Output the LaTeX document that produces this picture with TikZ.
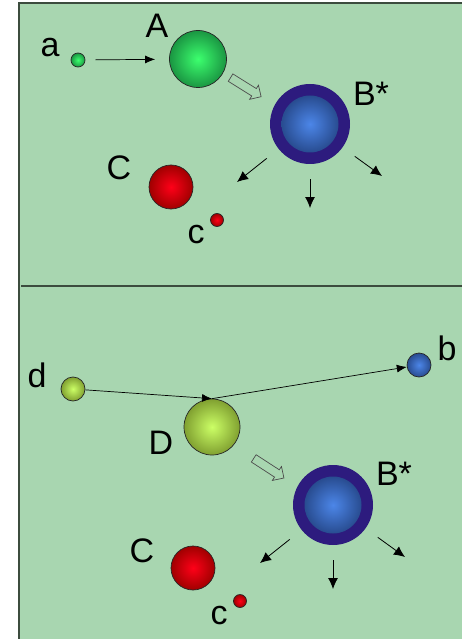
\documentclass[tikz,border=0pt]{standalone}
\usepackage{fontspec}
\setmainfont{Liberation Sans}
\usetikzlibrary{arrows.meta,shapes.arrows}
\definecolor{bgcol}{RGB}{168,214,176}
\definecolor{framecol}{RGB}{60,76,62}
\definecolor{greenin}{RGB}{60,255,110}
\definecolor{greenout}{RGB}{26,150,66}
\definecolor{redin}{RGB}{255,0,24}
\definecolor{redout}{RGB}{160,0,0}
\definecolor{limein}{RGB}{204,255,102}
\definecolor{limeout}{RGB}{128,160,48}
\definecolor{bluein}{RGB}{76,134,232}
\definecolor{blueout}{RGB}{40,76,144}
\definecolor{ringcol}{RGB}{45,27,126}
\begin{document}
\begin{tikzpicture}[x=1pt, y=-1pt,
		ball/.style={circle, draw=black!85, line width=0.7pt, inner sep=0pt},
		lbl/.style={inner sep=0pt, font=\fontsize{34}{34}\selectfont},
		flow/.style={-{Latex[length=10pt,width=8pt]}, line width=0.7pt},
		emit/.style={-{Latex[length=11pt,width=10pt]}, line width=0.8pt, shorten <=15pt},
		hollow/.style={single arrow, draw=black!70, fill=bgcol, line width=0.7pt,
			inner xsep=0pt, inner ysep=4pt, minimum height=36pt, single arrow head extend=4pt}]
			\useasboundingbox (0,0) rectangle (462,639);
			
			% Panels
			\fill[bgcol] (19,3) rectangle (462,639);
			\draw[framecol, line width=2pt] (19,639) -- (19,3) -- (462,3);
			\draw[framecol, line width=2pt] (21,286) -- (462,286);
			
			% Upper panel: balls
			\node[ball, minimum size=14pt, inner color=greenin, outer color=greenout] (a) at (78,60) {};
			\node[ball, minimum size=57pt, inner color=greenin, outer color=greenout] (A) at (198,59) {};
			\node[circle, inner sep=0pt, minimum size=80pt, fill=ringcol] (B1) at (310,124) {};
			\node[circle, inner sep=0pt, minimum size=57pt, inner color=bluein, outer color=blueout] (B1core) at (B1) {};
			\node[ball, minimum size=44pt, inner color=redin, outer color=redout] (C1) at (171,187) {};
			\node[ball, minimum size=13pt, inner color=redin, outer color=redout] (c1) at (217,220) {};
			
			% Upper panel: arrows
			\draw[flow, shorten <=10pt, shorten >=14pt] (a) -- (A);
			\node[hollow, rotate=-32] (h1) at (244,86) {};
			\foreach \dx/\dy [count=\i] in {-73/58, 0/84, 72/52} {
				\coordinate (B1e\i) at ([shift={(\dx,\dy)}]B1.center);
				\draw[emit] (B1) -- (B1e\i);
			}
			
			% Upper panel: labels
			\node[lbl] (la) at (50,48) {a};
			\node[lbl] (lA) at (157,26) {A};
			\node[lbl] (lB1) at (371,94) {B*};
			\node[lbl] (lC1) at (119,168) {C};
			\node[lbl] (lc1) at (196,235) {c};
			
			% Lower panel: balls
			\node[ball, minimum size=24pt, inner color=limein, outer color=limeout] (d) at (73,389) {};
			\node[ball, minimum size=56pt, inner color=limein, outer color=limeout] (D) at (212,427) {};
			\node[ball, minimum size=24pt, inner color=bluein, outer color=blueout] (b) at (419,365) {};
			\node[circle, inner sep=0pt, minimum size=80pt, fill=ringcol] (B2) at (333,505) {};
			\node[circle, inner sep=0pt, minimum size=57pt, inner color=bluein, outer color=blueout] (B2core) at (B2) {};
			\node[ball, minimum size=44pt, inner color=redin, outer color=redout] (C2) at (193,568) {};
			\node[ball, minimum size=13pt, inner color=redin, outer color=redout] (c2) at (240,601) {};
			
			% Lower panel: arrows
			\draw[flow] (d) -- (D.north);
			\draw[flow] (D.north) -- (b);
			\node[hollow, rotate=-33] (h2) at (267,467) {};
			\foreach \dx/\dy [count=\i] in {-73/58, 0/84, 72/52} {
				\coordinate (B2e\i) at ([shift={(\dx,\dy)}]B2.center);
				\draw[emit] (B2) -- (B2e\i);
			}
			
			% Lower panel: labels
			\node[lbl] (ld) at (37,375) {d};
			\node[lbl] (lb) at (447,348) {b};
			\node[lbl] (lD) at (161,443) {D};
			\node[lbl] (lB2) at (394,474) {B*};
			\node[lbl] (lC2) at (142,551) {C};
			\node[lbl] (lc2) at (219,616) {c};
		\end{tikzpicture}
\end{document}
